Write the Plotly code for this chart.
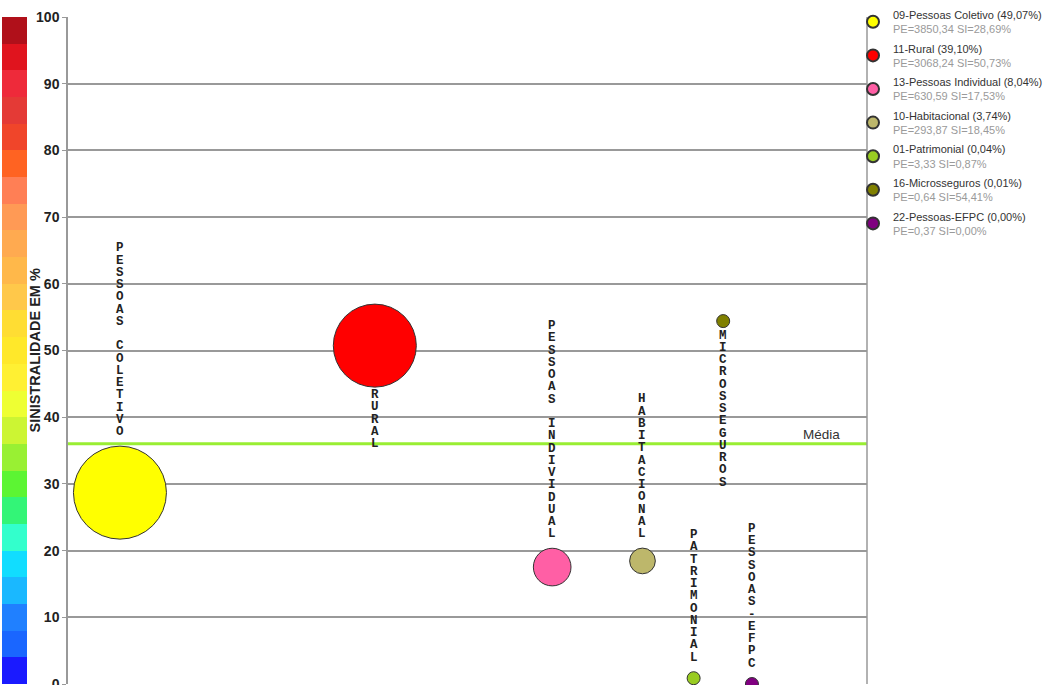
import plotly.graph_objects as go

# ---- data ----
codes = ["09", "11", "13", "10", "01", "16", "22"]
names = ["Pessoas Coletivo", "Rural", "Pessoas Individual", "Habitacional",
         "Patrimonial", "Microsseguros", "Pessoas-EFPC"]
share = [49.07, 39.10, 8.04, 3.74, 0.04, 0.01, 0.00]
pe = [3850.34, 3068.24, 630.59, 293.87, 3.33, 0.64, 0.37]
si = [28.69, 50.73, 17.53, 18.45, 0.87, 54.41, 0.00]
xpos = [6.5, 38.4, 60.6, 71.9, 78.3, 82.0, 85.6]
colors = ["#ffff00", "#ff0000", "#ff5fa5", "#bdb76b", "#99cc22", "#808000", "#800080"]
label_side = ["above", "below", "above", "above", "above", "below", "above"]

band_colors = ["#1a1aff", "#1a66ff", "#2080ff", "#1ab8ff", "#11ddff", "#33ffcc",
               "#33f577", "#5cf533", "#99f033", "#ccf533", "#eeff33", "#fff033",
               "#ffe82a", "#ffdd33", "#ffc84a", "#ffb84a", "#ffaa50", "#ff9a55",
               "#ff7f55", "#ff6322", "#f0452a", "#e43a36", "#ee2a3a", "#e0141e",
               "#b0101a"]

y_ticks = [0, 10, 20, 30, 40, 50, 60, 70, 80, 90, 100]

media = sum(p * s for p, s in zip(pe, si)) / sum(pe)


def br(v):
    return f"{v:.2f}".replace(".", ",")


MAX_D = 93
MIN_R = 6.5
sizeref = 2 * max(pe) / (MAX_D ** 2)

fig = go.Figure()

# colour scale bar (left)
n = len(band_colors)
cscale = []
for i, c in enumerate(band_colors):
    cscale.append([i / n, c])
    cscale.append([(i + 1) / n, c])
fig.add_trace(go.Scatter(
    x=[None], y=[None], mode="markers", showlegend=False, hoverinfo="skip",
    marker=dict(color=[0], cmin=0, cmax=100, colorscale=cscale, showscale=True,
                colorbar=dict(x=-66 / 799, xanchor="left", xpad=0, ypad=0,
                              thickness=25, thicknessmode="pixels",
                              len=1, lenmode="fraction", y=0.5, yanchor="middle",
                              outlinewidth=0, showticklabels=False, ticks=""))))

for i in range(len(names)):
    legend_txt = (f"{codes[i]}-{names[i]} ({br(share[i])}%)<br>"
                  f"<span style='color:#9a9a9a'>PE={br(pe[i])} SI={br(si[i])}%</span>")
    fig.add_trace(go.Scatter(
        x=[xpos[i]], y=[si[i]], mode="markers", name=legend_txt,
        legendgroup=codes[i], cliponaxis=False,
        marker=dict(size=[pe[i]], sizemode="area", sizeref=sizeref, sizemin=MIN_R,
                    color=colors[i], line=dict(color="#333333", width=1), opacity=1),
        hoverinfo="skip"))

# vertical letter labels
annotations = []
pitch = 12.25
for i in range(len(names)):
    r = max((MAX_D / 2) * (pe[i] / max(pe)) ** 0.5, MIN_R)
    txt = names[i].upper()
    m = len(txt)
    for j, ch in enumerate(txt):
        if ch == " ":
            continue
        if label_side[i] == "above":
            shift = r + 14 + (m - 1 - j) * pitch
        else:
            shift = -(r + 8 + j * pitch)
        annotations.append(dict(
            x=xpos[i], y=si[i], xref="x", yref="y", text=f"<b>{ch}</b>",
            showarrow=False, yshift=shift, xanchor="center", yanchor="middle",
            font=dict(family="Liberation Mono, Courier New, monospace", size=12.5,
                      color="#222222")))

annotations.append(dict(
    x=1, y=media, xref="paper", yref="y", text="Média", showarrow=False,
    xanchor="right", yanchor="bottom", xshift=-25, yshift=0,
    font=dict(family="Arial, Liberation Sans", size=13.5, color="#333333")))

annotations.append(dict(
    x=-34 / 799, y=0.5, xref="paper", yref="paper", text="<b>SINISTRALIDADE EM %</b>",
    showarrow=False, textangle=-90, xanchor="center", yanchor="middle",
    font=dict(family="Arial, Liberation Sans", size=14.5, color="#222222")))

fig.add_shape(type="line", xref="paper", yref="y", x0=0, x1=1, y0=media, y1=media,
              line=dict(color="#99ee33", width=3), layer="below")
fig.add_shape(type="line", xref="paper", yref="paper", x0=1, x1=1, y0=0, y1=1,
              line=dict(color="#999999", width=1.5))

fig.update_layout(
    width=1050, height=685,
    margin=dict(l=68, r=183, t=17, b=1, autoexpand=False),
    paper_bgcolor="white", plot_bgcolor="white",
    showlegend=True,
    legend=dict(x=1 - 14 / 799, xanchor="left", y=1 + 16 / 667, yanchor="top",
                font=dict(family="Arial, Liberation Sans", size=11, color="#333333"),
                itemsizing="constant", bgcolor="rgba(0,0,0,0)",
                traceorder="grouped", tracegroupgap=2),
    annotations=annotations,
    xaxis=dict(range=[0, 100], showgrid=False, zeroline=False, showline=False,
               showticklabels=False, ticks="", automargin=False),
    yaxis=dict(range=[0, 100], tickvals=y_ticks, ticktext=[f"<b>{t}</b>" for t in y_ticks],
               showgrid=True, gridcolor="#999999", gridwidth=1.5, zeroline=False,
               showline=True, linecolor="#999999", linewidth=1.5, automargin=False,
               ticks="outside", ticklen=4, tickcolor="#999999",
               ticklabeloverflow="allow",
               tickfont=dict(family="Arial, Liberation Sans", size=14, color="#222222")),
)

fig.write_html("out.html", config={"displayModeBar": False},
               post_script="document.body.style.margin='0px';document.body.style.overflow='hidden';")
